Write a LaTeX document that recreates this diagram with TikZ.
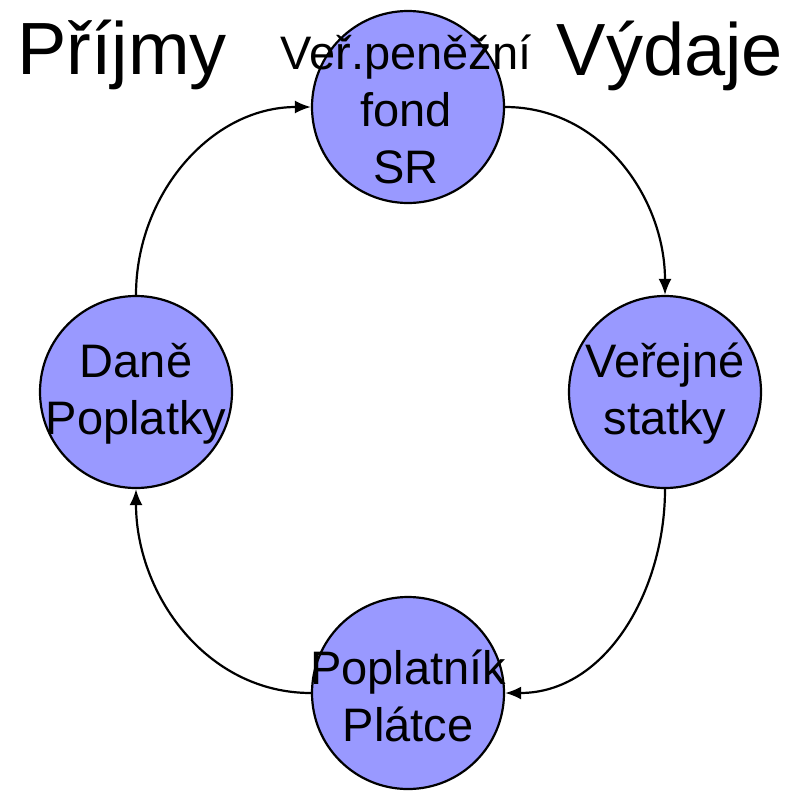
\documentclass[tikz,border=0pt]{standalone}
\usepackage{fontspec}
\setmainfont{Liberation Sans}
\usepackage{xcolor}
\usepackage{tikz}
\usetikzlibrary{arrows.meta}

\definecolor{fialova}{HTML}{9999FF}

\begin{document}
\begin{tikzpicture}[x=1pt,y=-1pt,->,>={Latex[length=16pt,width=13pt]},line width=2.2pt]
			\tikzstyle{kruh}=[draw,circle,fill=fialova,minimum size=192pt,inner sep=0pt]
			\tikzstyle{popis}=[align=center,font=\fontsize{47}{57}\selectfont,inner sep=0pt]
			\tikzstyle{nadpis}=[font=\fontsize{74}{80}\selectfont,inner sep=0pt,anchor=base]
			\useasboundingbox (0,0) rectangle (805,790);
			
			\node[kruh] (fond) at (408,107) {};
			\node[kruh] (verejne) at (665,392) {};
			\node[kruh] (plat) at (408,693) {};
			\node[kruh] (dane) at (136,392) {};
			
			\node[popis] (fondT) at (406,109) {Veř.peněžní\\fond\\SR};
			\node[popis] (verejneT) at (665,394) {Veřejné\\statky};
			\node[popis] (platT) at (408,696) {Poplatník\\Plátce};
			\node[popis] (daneT) at (136,394) {Daně\\Poplatky};
			
			\node[nadpis] (prijmy) at (122,74) {Příjmy};
			\node[nadpis] (vydaje) at (670,75) {Výdaje};
			
			\path (dane) edge[out=90,in=180] (fond)
			(fond) edge[out=0,in=90] (verejne)
			(verejne) edge[out=-90,in=0] (plat)
			(plat) edge[out=180,in=-90] (dane);
		\end{tikzpicture}
\end{document}
